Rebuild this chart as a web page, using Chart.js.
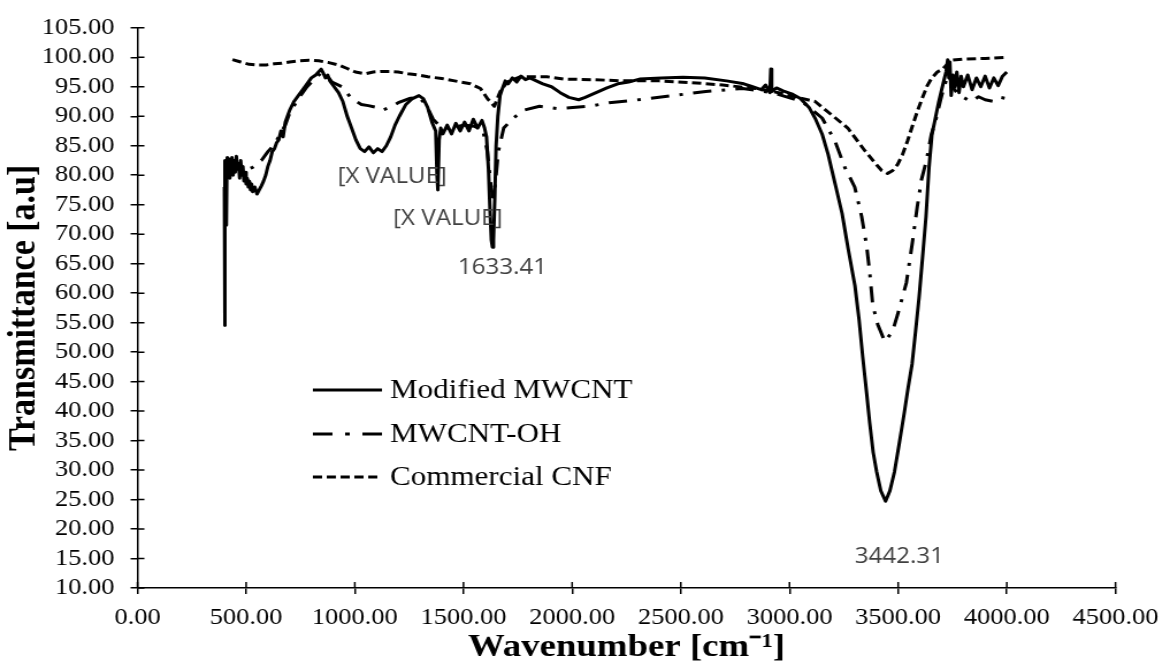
<!DOCTYPE html>
<html><head><meta charset="utf-8">
<script src="https://cdn.jsdelivr.net/npm/chart.js@4.4.1/dist/chart.umd.min.js"></script>
<style>
html,body{margin:0;padding:0;background:#fff;overflow:hidden;width:1170px;height:670px}
#wrap{position:absolute;left:0;top:0;width:1017px;height:670px;transform:scaleX(1.15044);transform-origin:0 0}
</style></head><body>
<div id="wrap"><canvas id="c"></canvas></div>
<script>
// ---------- data ----------
const seriesNames = ['Modified MWCNT', 'MWCNT-OH', 'Commercial CNF'];

const modX = [400,401,402,404,406,409,411,413,416,420,425,430,435,440,445,450,455,460,465,470,475,480,485,490,495,500,505,510,515,520,525,530,540,550,560,570,580,590,600,610,620,630,640,650,660,670,680,690,700,720,740,760,780,800,820,845,855,865,875,885,905,925,945,965,985,1005,1025,1045,1065,1085,1105,1125,1145,1165,1185,1205,1235,1265,1295,1315,1335,1355,1372,1378,1382,1388,1395,1405,1425,1445,1465,1485,1505,1525,1545,1565,1585,1597,1606,1615,1622,1628,1633,1638,1644,1650,1658,1668,1680,1692,1705,1725,1745,1765,1785,1805,1835,1865,1905,1945,1985,2030,2060,2110,2160,2210,2260,2310,2410,2510,2610,2710,2790,2830,2870,2890,2910,2914,2918,2940,2970,3010,3050,3090,3120,3150,3178,3210,3242,3270,3301,3320,3337,3355,3369,3385,3401,3420,3442,3462,3483,3505,3528,3546,3564,3580,3596,3612,3628,3642,3655,3670,3687,3700,3712,3720,3728,3733,3738,3744,3752,3760,3770,3780,3790,3800,3820,3840,3860,3880,3900,3920,3940,3960,3980,4000];
const modY = [78,54.5,80,82.5,78,71.5,80,83,80.5,82.8,79.5,81.5,83,80,82.5,80.5,83.2,81,82,79.5,82.5,80,81.5,79,80.5,78.5,79.5,78,79,77.5,78.5,77.2,78,76.8,77.5,78.2,79,80,81.5,82.5,84,84.5,85.5,86,87.5,86.5,89,90,91,92.5,93.5,94.5,95.5,96.5,97,98,97.3,96.5,97,96,95,94,92.5,90,88,86,84.5,84,84.8,83.8,84.5,84,85,86.5,88.5,90,92,93,93.5,93,91.5,89,87.5,80,77.5,86,88,87,88.5,87,88.8,87.5,89,87.5,89.5,88,89.3,88,86.5,81,74,69,67.8,69,76,85,90,93.5,94.8,96,95.5,96.5,95.8,96.8,96.2,96.5,96,95.5,95,94,93.2,92.8,93.2,94,94.8,95.5,95.8,96.3,96.5,96.6,96.5,96,95.5,95,94.5,95.3,94,98,94.2,94.8,94.3,93.8,93,91.5,89.5,87,83.5,78.5,73.5,67.5,61.3,55.5,49.2,43,38,33,29.7,26.5,24.7,26.5,29.7,34.5,39.7,44,48,53.5,59.2,66,73,81.3,86.8,89.5,92.5,94.5,96.3,97.5,99.6,96.5,99.2,93.5,97,95,97.5,94,96.8,95,97,94.5,96.5,95,96.8,94.8,96.5,95.2,96.8,97.5];

const ohX = [400,420,450,480,505,528,570,600,625,650,680,700,740,780,820,850,880,895,940,985,1030,1062,1100,1125,1160,1200,1250,1295,1330,1360,1400,1450,1500,1550,1590,1610,1625,1635,1645,1660,1685,1730,1775,1850,1930,2081,2170,2282,2464,2615,2784,2921,3058,3150,3209,3255,3300,3332,3355,3369,3383,3406,3438,3474,3497,3538,3565,3588,3607,3630,3652,3675,3700,3720,3735,3750,3770,3800,3835,3870,3900,3940,3970,4000];
const ohY = [80.5,81,81.5,81.3,81,81.3,82.5,84,85,86.5,88.5,90.5,93,95,96.5,97.5,96.5,95.8,95,93,92,91.8,91.5,91,91.5,92.3,93,93.3,91.8,89.5,88,88,88.5,88.3,87.5,84,78.5,76.3,78,84,88,89.7,91,91.7,91.3,91.7,92.3,92.7,93.5,94.2,94.7,94,92.5,89.7,85.8,81.3,78,73,68,63.5,58,54.7,51.8,53.5,56.3,61.8,68.5,74.7,79.2,82.5,86.8,89.7,93.5,96,97,95,94,93.2,92.5,93.3,92.8,92.5,93.2,93];

const cnfX = [437,475,514,550,592,630,665,700,742,790,834,880,925,965,1003,1048,1085,1121,1160,1199,1245,1290,1336,1400,1459,1532,1578,1610,1642,1669,1701,1761,1884,1962,2100,2236,2400,2550,2693,2844,2950,3026,3118,3195,3268,3346,3400,3424,3451,3475,3497,3520,3543,3565,3588,3610,3634,3655,3680,3705,3725,3745,3800,3900,4000];
const cnfY = [99.6,99.2,98.8,98.7,98.7,98.9,99,99.2,99.4,99.5,99.4,99.1,98.7,98.1,97.5,97.2,97.5,97.6,97.6,97.5,97.2,97,96.7,96.4,96,95.5,94.7,93,91.7,94.2,95.8,96.7,96.7,96.3,96.2,96,96,95.7,95.3,94.7,94,93.3,92.5,90.2,88,84.2,81.8,80.8,80.3,80.8,81.8,83.5,85.8,88.3,90.8,93,95.2,96.5,97.5,98,98.8,99.5,99.7,99.8,100];

const xTickValues = [0,500,1000,1500,2000,2500,3000,3500,4000,4500];
const yTickValues = [10,15,20,25,30,35,40,45,50,55,60,65,70,75,80,85,90,95,100,105];

const peakLabels = ['[X VALUE]', '[X VALUE]', '1633.41', '3442.31'];
const peakLabelX = [1172, 1428, 1679, 3506];
const peakLabelY = [79.7, 72.5, 64.2, 15.3];

// ---------- chart ----------
const SERIF = "'Liberation Serif','Times New Roman',serif";
Chart.defaults.font.family = SERIF;
Chart.defaults.color = '#000';

function pts(xs, ys) { return xs.map((x, i) => ({x: x, y: ys[i]})); }

const styles = [
  {borderDash: []},
  {borderDash: [16, 9, 3, 9]},
  {borderDash: [8, 4]}
];

const crossTicks = {
  id: 'crossTicks',
  afterDraw(chart) {
    const {ctx, chartArea: a, scales: {x, y}} = chart;
    ctx.save();
    ctx.strokeStyle = '#000';
    ctx.lineWidth = 1.5;
    ctx.beginPath();
    y.ticks.forEach(t => { const p = y.getPixelForValue(t.value); ctx.moveTo(a.left, p); ctx.lineTo(a.left + 6, p); });
    x.ticks.forEach(t => { const p = x.getPixelForValue(t.value); ctx.moveTo(p, a.bottom); ctx.lineTo(p, a.bottom - 6); });
    ctx.stroke();
    ctx.restore();
  }
};

const inlineLegend = {
  id: 'inlineLegend',
  afterDraw(chart) {
    const ctx = chart.ctx;
    const rows = [390, 434, 477];
    ctx.save();
    chart.data.datasets.forEach((ds, i) => {
      const yy = rows[i];
      ctx.strokeStyle = '#000';
      ctx.lineWidth = 3;
      ctx.setLineDash(i === 1 ? [17, 11, 4, 11] : ds.borderDash);
      ctx.beginPath();
      ctx.moveTo(272, yy);
      ctx.lineTo(332, yy);
      ctx.stroke();
      ctx.setLineDash([]);
      ctx.fillStyle = '#000';
      ctx.font = '27px ' + SERIF;
      ctx.textBaseline = 'middle';
      ctx.textAlign = 'left';
      ctx.fillText(ds.label, 339, yy + 1);
    });
    ctx.restore();
  }
};

const peakText = {
  id: 'peakText',
  afterDatasetsDraw(chart) {
    const {ctx, scales: {x, y}} = chart;
    ctx.save();
    ctx.fillStyle = '#404040';
    ctx.font = "21px 'Open Sans', 'Liberation Sans', sans-serif";
    ctx.textAlign = 'center';
    ctx.textBaseline = 'middle';
    peakLabels.forEach((t, i) => ctx.fillText(t, x.getPixelForValue(peakLabelX[i]), y.getPixelForValue(peakLabelY[i])));
    ctx.restore();
  }
};

new Chart(document.getElementById('c'), {
  type: 'line',
  data: {
    datasets: [
      {label: seriesNames[0], data: pts(modX, modY)},
      {label: seriesNames[1], data: pts(ohX, ohY)},
      {label: seriesNames[2], data: pts(cnfX, cnfY)}
    ].map((d, i) => Object.assign(d, {
      borderColor: '#000', backgroundColor: '#000', borderWidth: 3,
      borderDash: styles[i].borderDash, pointRadius: 0, tension: 0, fill: false,
      borderJoinStyle: 'round', borderCapStyle: 'butt'
    }))
  },
  options: {
    responsive: true,
    maintainAspectRatio: false,
    animation: false,
    layout: {padding: {left: 0, right: 40.9, top: 18, bottom: 0}},
    plugins: {legend: {display: false}, tooltip: {enabled: false}},
    scales: {
      x: {
        type: 'linear', min: 0, max: 4500,
        afterBuildTicks: s => { s.ticks = xTickValues.map(v => ({value: v})); },
        afterFit: s => { s.height = 82; },
        grid: {display: true, drawOnChartArea: false, drawTicks: true, tickLength: 6, color: '#000', lineWidth: 1.5},
        border: {display: true, color: '#000', width: 1.5},
        ticks: {font: {size: 23}, padding: 10, maxRotation: 0, autoSkip: false, callback: v => Number(v).toFixed(2)},
        title: {display: true, text: 'Wavenumber [cm\u207B\u00B9]', font: {size: 32, weight: 'bold'}, padding: {top: 0, bottom: 3}}
      },
      y: {
        type: 'linear', min: 10, max: 105,
        afterBuildTicks: s => { s.ticks = yTickValues.map(v => ({value: v})); },
        afterFit: s => { s.width = 119.5; },
        grid: {display: true, drawOnChartArea: false, drawTicks: true, tickLength: 6, color: '#000', lineWidth: 1.5},
        border: {display: true, color: '#000', width: 1.5},
        ticks: {font: {size: 23}, padding: 14, autoSkip: false, callback: v => Number(v).toFixed(2)},
        title: {display: true, text: 'Transmittance [a.u]', font: {size: 34, weight: 'bold'}, padding: {top: 1.3, bottom: 0}}
      }
    }
  },
  plugins: [crossTicks, peakText, inlineLegend]
});
</script>
</body></html>
